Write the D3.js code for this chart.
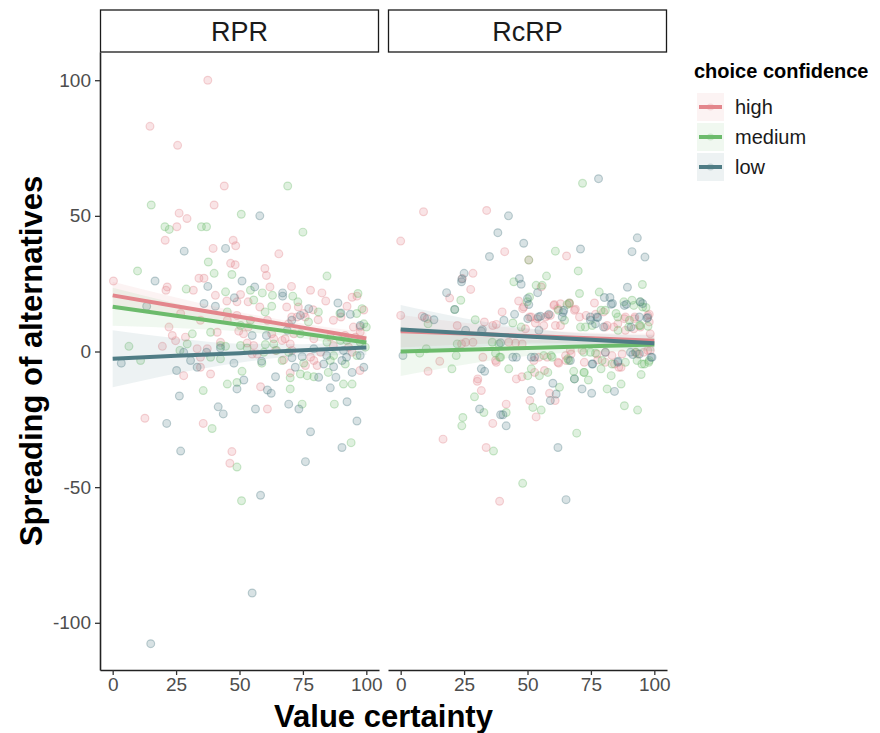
<!DOCTYPE html>
<html>
<head>
<meta charset="utf-8">
<script src="https://cdn.jsdelivr.net/npm/d3@7"></script>
<style>
  body { margin: 0; background: #fff; }
  svg { font-family: "Liberation Sans", Arial, sans-serif; }
</style>
</head>
<body>
<svg width="880" height="733"></svg>
<script>
// --- data ---
const panels = ["RPR", "RcRP"];
const groups = ["high", "medium", "low"];
const groupColors = ["#E3868C", "#6CBB6C", "#4F7C85"];
const xTicks = [0, 25, 50, 75, 100];
const yTicks = [-100, -50, 0, 50, 100];

const rprHigh = [[37.5,100],[14.7,83],[25.6,76],[44,61],[40,54],[26.2,51],[29.3,49],[25.3,46],[20.7,41],[39.6,38],[47.5,41],[48.5,39],[65.5,36],[46.5,32.5],[48.3,32],[60,30.6],[60.6,28],[0.3,26],[34,27],[36,27],
  [21.5,23.8],[21,22.6],[31.8,22.6],[62,23.8],[70.5,24],[78,22.6],[82.5,21.6],[84,18.6],[92.4,16.7],[94.4,20],[96.3,20.4],[40.5,20.7],[45,18.6],[50.4,21],[53.4,18.3],[49,18.3],[58,16.4],
  [75.3,14],[72.7,12.7],[79,15.4],[81,11.7],[87,11.5],[90,12.7],[99,15.3],[97.6,7.2],[95.7,5.3],
  [22.2,9],[23.5,5.9],[24.8,4],[19.6,1.9],[28.7,5.3],[33.3,1],[34.6,-5.8],[28,-8.9],[41.2,7.1],[42.5,3.4],[38.6,-8.3],[37.3,1],
  [49.7,7.5],[53,3.1],[55.6,2.2],[55,-0.9],[61,11.5],[63.5,4.7],[66.8,4.1],[64.2,0.4],[67.4,-3.1],[58.3,-13],[61,-21.2],
  [79.3,-3.3],[80.6,-5.2],[76,-5.2],[94.4,-0.3],[70.7,0.4],[78,-2.1],[82,-0.3],[71.4,6.5],[79.3,4.7],[85.8,5.3],[87,2.2],
  [34.6,11.5],[45.2,11.5],[49,13.3],[26.8,14],[34.6,-2.1],[57,-0.9],[12.7,-24.6],[35.7,-26.5],[47,-36.9],[46.2,-41.2],
  [73.2,16.4],[75.9,12.7],[68.6,16.4],[70.6,12.7],[69.3,10.2],[97.5,9],[94.9,9],[91.6,5.9],[68,4.7],[70,2.8],[62.7,6.5],
  [53.5,9],[51.6,6.5],[70,-7.9],[97.5,-7],[93,1.6]];
const rprMedium = [[69,61],[15.2,54],[50.7,50.6],[20.6,46],[22.3,45],[35,46],[37,46],[75,44],[37.7,33],[9.8,29.7],[40,28.8],[47,28.4],[84.5,27.8],
  [29,23],[44.5,22],[54.3,22.6],[59,21.6],[63,20.7],[71,20.4],[96.7,21.4],[55.6,19],[98.3,15.8],[99,10.2],
  [6.4,1.9],[11,-3.3],[31.4,6.5],[26.5,0.4],[29.4,2.8],[38.6,7.1],[42.5,2.2],[44.5,1.9],[42.5,-2.7],[45.2,-12],[49,-11.4],[51,-7.3],
  [50.4,2.2],[53,1.3],[60.2,2.6],[63.5,2.8],[70,-13.8],[74.7,-19.4],[70,-9.7],[35.7,-14.4],[39.2,-28.4],[49,-42.6],
  [94,-33.6],[87.4,-19.4],[91,-12],[94.4,-12],[85,-7.7],[79.3,-9.3],[76.7,-8.9],[74,-8.3],[85.8,-3.3],[91.7,-4.6],[87.1,-1.5],
  [96.3,-1.5],[99.6,1.6],[69.4,-0.3],[66.8,-3.3],[75.3,-4.3],[74,6.5],[84.5,3.4],[89.8,4.1],[97.6,3.4],
  [45.2,14.6],[54.3,11.5],[50.4,9.6],[64.6,0.4],[59.6,-0.3],[38.6,-2.1],[50.8,-55],
  [73,18.3],[96.2,14],[100,9],[89.6,14],[81.1,14.6],[77.2,10.9],[60.1,14.6],[62.7,16.7],[92.3,4.1],[58.8,-4.3]];
const rprLow = [[58,50],[28.2,37],[44.5,38],[16.7,26],[51,26],[37.5,24],[56,23.8],[67,21.6],[67,20.4],[88.8,17.9],[48,19.8],[36,17.7],[40.5,16.7],[13.4,16.7],
  [77.3,15.8],[74,13.3],[90,14.2],[93.7,13.7],[97.6,9.6],[3.4,-4.3],[30.7,-3.3],[25.2,-7],[33.3,-5.8],[47.8,-4.3],[51.7,-10.5],[49,-13.8],
  [55,5.9],[60.6,5.9],[58.7,-3.6],[64.2,-9.3],[61,-14.2],[62.5,-15.4],[69.4,-19.4],[73.4,-21.2],[56.3,-21.2],[41.6,-20.4],[43.6,-23],
  [26.3,-16.4],[21.3,-26.5],[26.8,-36.7],[76,-40.6],[78,-29.6],[90.4,-35.4],[96.3,-25.6],[92.4,-18.5],[85.8,-13.4],[88,-9.5],
  [81.2,-9.5],[83.2,-4.6],[87.1,-5.6],[90.4,-3.3],[97.6,-1.5],[99,-5.8],[94.4,-7.7],[70.7,-2.3],[74.7,-1.9],[72,-5.8],
  [68.8,7.8],[79.3,1],[91,0.4],[28,-0.3],[42.5,1.3],[37,-0.3],[58.3,-53],[55,-89],[15,-107.7],
  [70.6,11.5],[84.4,-1.5],[92.2,-2.1]];

const rcrpHigh = [[0,40.7],[9,51.5],[33.9,52],[41,36.8],[50.5,33.7],[65.4,35.2],[76.4,17.9],[55.4,23.8],[46.5,18.6],[60.6,17.3],[66.5,17.9],[68.9,15.6],
  [28.5,28.8],[24.3,26.9],[27.6,22.9],[19.3,19.7],[0,13.3],[8.5,13],[10.5,12.1],[22.3,9.6],[33,10.9],[36.3,9.6],[37.7,10],[40,14.6],
  [48.1,15.8],[51.5,12.7],[58,13.3],[61.9,15.8],[68.5,15.2],[73.1,13.3],[80.6,9],[85.6,10.2],[88.2,12.1],[92.1,12.1],[97.4,13.3],[98,10.9],
  [15.4,-3.6],[10.8,-7.3],[30.4,-10.1],[30.2,-11],[32.4,-2.1],[37.7,-4],[45.6,-10.1],[47.8,-9.3],[52.8,-7.7],[56.7,-7],[58.7,-15.4],[60.9,-18.1],
  [50.9,-18.1],[53.4,-24.1],[39,-55.2],[16.7,-32.3],[33.7,-35.4],[41.6,-19.4],[36.3,-26.5],[31.8,-14.4],
  [72.4,-4],[77.7,-3.1],[84.3,-4.6],[86.9,-5.8],[97.4,0.4],[93.4,-0.9],[67.2,-0.9],[62,-4],[65.2,-3.3],
  [25.6,3.4],[28.5,3.4],[24,2.8],[42.6,3.4],[45.3,3.1],[47.9,2.8],[37.4,-3.3],[48.5,16.4],
  [98,13.7],[88.6,12.7],[92.3,12.7],[80,14.6],[76.8,13.7],[66.5,17.6],[63,17.6],[60.4,17],[59,13.3],[57.1,12.7],[53.8,12.1],[50.8,12.7],
  [70.5,12.7],[81.4,9.6],[84,9],[88.6,7.8],[91.9,8.4],[94.5,9],[98.4,6.5],[63,9.6],[61,9.6],[56.4,9.6],[53.1,10.5],[49.2,8.4],
  [66.9,0.4],[65,-1.5],[62.3,-4.3],[57.8,-2.1],[54.5,-2.1],[52.5,-3.3],
  [95.8,-0.3],[98.4,0.4],[92.5,-0.3],[87.3,-0.9],[83.3,-1.5],[80.7,-0.3],[77.4,-0.9],[86,-5.8],[80.7,-4],[71.5,0.4]];
const rcrpMedium = [[71.7,62],[61,37],[70,29.7],[95.3,24.7],[78.3,21.9],[70.5,21.4],[91.2,18.9],[95.4,16.4],[57.5,27.8],[44.6,25.7],[53.4,24.4],[55.8,24.4],
  [65.6,17.3],[23.7,18.9],[50.5,33.7],[10.8,10.2],[21.3,15.5],[29.4,11.7],[44.2,10.5],[47.5,9],[66.5,17.9],[62.2,15.2],[64.6,11.5],
  [79,15.2],[85.6,12.7],[90.2,11.5],[94.1,9.6],[7.5,-0.6],[10.1,1],[20.2,-6.4],[21.9,-1.5],[39,-2.1],[42.6,-6.4],
  [50.1,-8.9],[51.5,-6.4],[54.7,-8.9],[58,-7.7],[62.6,-13.2],[52.1,-20.6],[55.4,-21.6],[69.4,-30.1],[48.1,-48.6],[36.6,-36.7],
  [24.5,-24.3],[24.1,-27.4],[32.8,-22.5],[41.6,-22.5],[29.1,-16.7],[68.5,-10.1],[68.2,-7.3],[72.4,-7.7],[74,-10.5],
  [81.4,-13.8],[86.9,-12],[88.2,-20],[93.4,-21.6],[83,-8.9],[94.8,-8.5],[79,-6.4],[96.1,-4.6],[98,-3.3],[92.8,-0.3],
  [65.9,-2.7],[59.3,-1.5],[22.3,2.8],[36.1,3.4],[38.7,2.8],[37.4,-0.6],[39.4,-2.1],
  [88,18.3],[91.9,17],[94.5,18.3],[96.7,16.2],[84.9,14],[80.7,15.2],[94.5,9.6],[97.5,9.3],[70.9,9],[72.8,9],[75.5,9.6],[85.7,7.8],[89.9,9],
  [72.2,-0.3],[74.8,-0.3],[76.8,-0.6],[56.4,-1.5],[59.7,-2.1],[66.3,-3.3],[72.2,-7.7],
  [95.1,-4.6],[97.8,-4],[93.2,-3.3],[88.6,-4],[83.3,-4.6],[79.4,-3.3],[49.9,18.3],[50.8,20.1]];
const rcrpLow = [[42.5,50],[78,63.7],[38.3,43.8],[48.5,39.9],[35,35],[70.9,37.8],[93.3,41.9],[91.2,36.8],[96.3,34.8],[89.4,23.7],[80.3,19.9],[82.5,19.9],[83.5,17.7],
  [94.4,18.3],[89,17.4],[46.8,26.9],[47.5,24.8],[54,21.7],[50,19.5],[50.5,17.3],[25,28.8],[24.1,26.7],[24,25.7],[18.1,21.7],
  [9.4,12.5],[13.1,11.7],[21.3,15.5],[31.8,7.5],[40.7,11.5],[44.9,13.7],[50.1,12.1],[54.3,12.7],[64,14.4],
  [74.8,11.5],[77.7,12.5],[83,17.4],[88.2,17],[95.4,17.7],[90.8,9],[97.4,12.5],[0.9,-1.5],[31.8,-6.4],[33.1,-7.3],[44.2,-2.1],[45.6,-2.1],
  [51.5,-2.1],[52.8,-2.1],[60,-11.7],[61.3,-15.7],[59,-18.1],[51.5,-14.4],[62,-35.4],[65.2,-54.6],[31.1,-21.2],[39.4,-23.3],[40.3,-23.3],[41.6,-27.4],
  [68.5,-10.1],[71.5,-13.8],[75.3,-15.4],[84.3,-14.7],[75.7,-4.6],[85.6,-4],[91.5,-1.1],[98.7,-2.1],
  [25.6,7.8],[32.2,8],[39.4,3.2],[94.1,12.7],[97.1,12.3],[74.8,12.7],[77.4,12.7],[64.3,15.2],[63.7,12.7],[55.1,13],[58.4,13.7],
  [76.8,10.2],[80,9],[54.5,7.8],[66.9,-3.3],[90.6,-0.3],[94.1,-0.9],[99.1,-2.1],[85.7,-3.6],[75.5,-4.6],[80.7,-0.3]];

// fitted lines and confidence bands, read at these x positions (order: high, medium, low)
const fitX = [0, 25, 50, 75, 100];
const rprFit   = [[20.7,16.7,12.8,8.8,4.8],[16.5,13.2,9.9,6.6,3.3],[-2.7,-1.6,-0.6,0.5,1.5]];
const rprLower = [[15.7,13.5,11,7.3,2.6],[9.5,8.7,7.4,4.8,0.8],[-13.2,-8.1,-4.1,-1.7,-1.3]];
const rprUpper = [[25.7,19.9,14.6,10.3,7],[23.5,17.7,12.4,8.4,5.8],[7.8,4.9,2.9,2.7,4.3]];
const rcrpFit   = [[7.5,6.6,5.75,4.9,4],[0,0.65,1.3,1.95,2.6],[8.1,6.8,5.55,4.3,3]];
const rcrpLower = [[1.5,2.6,3.25,2.9,1.5],[-9,-4.85,-1.7,-0.05,0.1],[-0.9,1.3,2.55,2.1,0]];
const rcrpUpper = [[13.5,10.6,8.25,6.9,6.5],[9,6.15,4.3,3.95,5.1],[17.1,12.3,8.55,6.5,6]];

const panelPoints = [[rprHigh, rprMedium, rprLow], [rcrpHigh, rcrpMedium, rcrpLow]];
const panelFits = [[rprFit, rprLower, rprUpper], [rcrpFit, rcrpLower, rcrpUpper]];

// --- layout ---
const svg = d3.select("svg");
const plotTop = 52, plotBottom = 670;
const panelLeft = [100, 388], panelWidth = 279;

const y = d3.scaleLinear().domain([-117.4, 110.4]).range([plotBottom, plotTop]);

panels.forEach(function(name, p) {
    const x = d3.scaleLinear().domain([-5, 105]).range([panelLeft[p], panelLeft[p] + panelWidth]);
    const g = svg.append("g");

    // strip
    g.append("rect")
        .attr("x", panelLeft[p] + 0.5).attr("y", 10)
        .attr("width", panelWidth - 1).attr("height", plotTop - 10)
        .attr("fill", "#fff").attr("stroke", "#1a1a1a").attr("stroke-width", 1.3);
    g.append("text")
        .attr("x", panelLeft[p] + panelWidth / 2).attr("y", 41)
        .attr("text-anchor", "middle")
        .attr("font-size", 27).attr("fill", "#1a1a1a")
        .text(name);

    // points
    panelPoints[p].forEach(function(pts, gi) {
        g.append("g").selectAll("circle")
            .data(pts)
            .join("circle")
            .attr("cx", d => x(d[0]))
            .attr("cy", d => y(d[1]))
            .attr("r", 3.9)
            .attr("fill", groupColors[gi])
            .attr("fill-opacity", 0.22)
            .attr("stroke", groupColors[gi])
            .attr("stroke-opacity", 0.34)
            .attr("stroke-width", 1.2);
    });

    // bands + lines
    const fit = panelFits[p];
    groups.forEach(function(gr, gi) {
        const rows = fitX.map((xv, i) => ({x: xv, f: fit[0][gi][i], lo: fit[1][gi][i], hi: fit[2][gi][i]}));
        const area = d3.area()
            .x(d => x(d.x)).y0(d => y(d.lo)).y1(d => y(d.hi))
            .curve(d3.curveMonotoneX);
        g.append("path").datum(rows)
            .attr("d", area)
            .attr("fill", groupColors[gi]).attr("fill-opacity", 0.1);
    });
    groups.forEach(function(gr, gi) {
        const rows = fitX.map((xv, i) => ({x: xv, f: fit[0][gi][i]}));
        const line = d3.line().x(d => x(d.x)).y(d => y(d.f));
        g.append("path").datum(rows)
            .attr("d", line)
            .attr("fill", "none")
            .attr("stroke", groupColors[gi])
            .attr("stroke-width", 4);
    });

    // x axis
    const xAxis = g.append("g")
        .attr("transform", "translate(0," + plotBottom + ")")
        .call(d3.axisBottom(x).tickValues(xTicks).tickSize(5).tickPadding(3).tickSizeOuter(0));
    xAxis.attr("font-family", null);
    xAxis.select(".domain").attr("stroke", "#222").attr("stroke-width", 1.6);
    xAxis.selectAll(".tick line").attr("stroke", "#333").attr("stroke-width", 1.3);
    xAxis.selectAll("text").attr("font-size", 19).attr("fill", "#4d4d4d");
});

// y axis
const yAxis = svg.append("g")
    .attr("transform", "translate(" + panelLeft[0] + ",0)")
    .call(d3.axisLeft(y).tickValues(yTicks).tickFormat(d => String(d)).tickSize(5).tickPadding(4).tickSizeOuter(0));
yAxis.attr("font-family", null);
yAxis.select(".domain").attr("stroke", "#222").attr("stroke-width", 1.6);
yAxis.selectAll(".tick line").attr("stroke", "#333").attr("stroke-width", 1.3);
yAxis.selectAll("text").attr("font-size", 19).attr("fill", "#4d4d4d");

// axis titles
svg.append("text")
    .attr("x", (panelLeft[0] + panelLeft[1] + panelWidth) / 2).attr("y", 727)
    .attr("text-anchor", "middle")
    .attr("font-size", 31).attr("font-weight", "bold").attr("fill", "#000")
    .text("Value certainty");
svg.append("text")
    .attr("transform", "translate(42," + ((plotTop + plotBottom) / 2) + ") rotate(-90)")
    .attr("text-anchor", "middle")
    .attr("font-size", 31).attr("font-weight", "bold").attr("fill", "#000")
    .text("Spreading of alternatives");

// legend
const legend = svg.append("g").attr("transform", "translate(694,0)");
legend.append("text")
    .attr("x", 0).attr("y", 78)
    .attr("font-size", 20).attr("font-weight", "bold").attr("fill", "#000")
    .text("choice confidence");
groups.forEach(function(gr, gi) {
    const top = 93 + gi * 30;
    legend.append("rect")
        .attr("x", 3).attr("y", top).attr("width", 27).attr("height", 28)
        .attr("fill", groupColors[gi]).attr("fill-opacity", 0.1);
    legend.append("line")
        .attr("x1", 5).attr("x2", 28).attr("y1", top + 14).attr("y2", top + 14)
        .attr("stroke", groupColors[gi]).attr("stroke-width", 4);
    legend.append("circle")
        .attr("cx", 16.5).attr("cy", top + 14).attr("r", 3.6)
        .attr("fill", groupColors[gi]).attr("fill-opacity", 0.25);
    legend.append("text")
        .attr("x", 41).attr("y", top + 21)
        .attr("font-size", 20).attr("fill", "#1a1a1a")
        .text(gr);
});
</script>
</body>
</html>
